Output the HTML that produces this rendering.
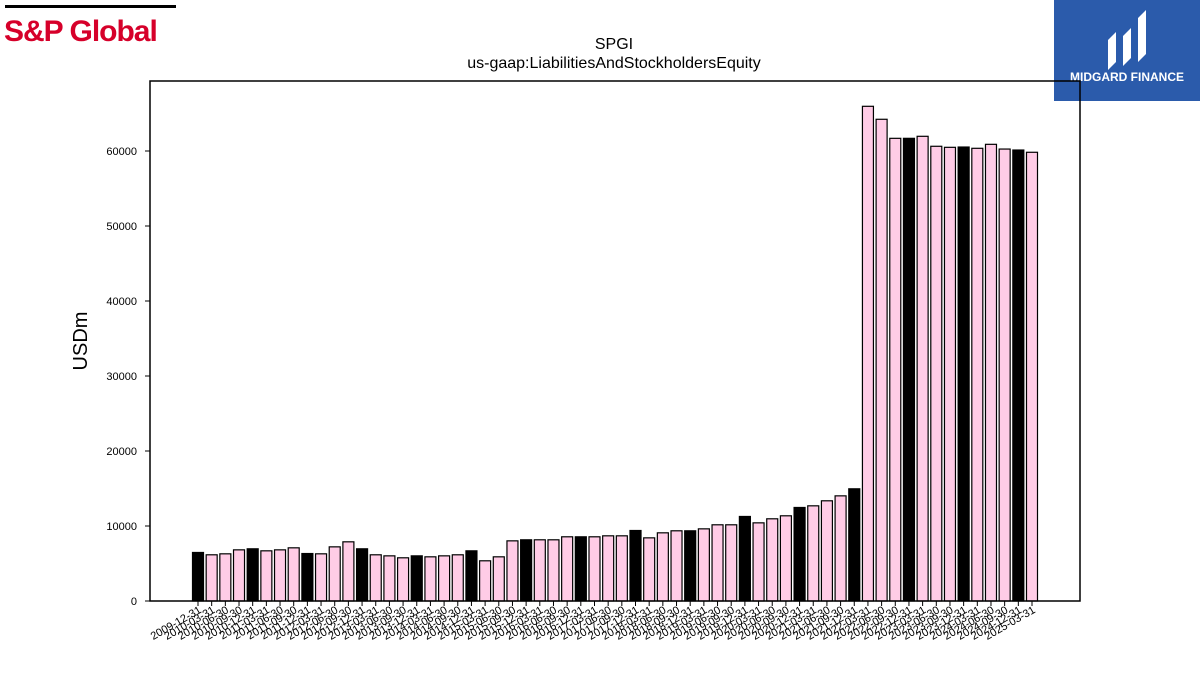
<!DOCTYPE html>
<html><head><meta charset="utf-8"><style>
body{margin:0;background:#fff;width:1200px;height:675px;overflow:hidden;font-family:"Liberation Sans","DejaVu Sans",sans-serif}
</style></head><body>
<svg width="1200" height="675" xmlns="http://www.w3.org/2000/svg">
<g>
<rect x="5" y="5" width="171" height="3" fill="#000"/>
<text x="4" y="41" font-size="30" font-weight="bold" fill="#d6002a" font-family="Liberation Sans, sans-serif" letter-spacing="-1">S&amp;P Global</text>
</g>
<g>
<rect x="1054" y="0" width="146" height="101" fill="#2b5bab"/>
<path d="M1108 70 L1108 40 L1116 32 L1116 62 Z M1123 66 L1123 36 L1131 28 L1131 58 Z M1138 62 L1138 18 L1146 10 L1146 54 Z" fill="#fff"/>
<text x="1127" y="81" font-size="12" font-weight="bold" fill="#fff" text-anchor="middle">MIDGARD FINANCE</text>
</g>
<text x="614" y="49" font-size="16" text-anchor="middle">SPGI</text>
<text x="614" y="68" font-size="16" text-anchor="middle">us-gaap:LiabilitiesAndStockholdersEquity</text>
<text transform="translate(87,341) rotate(-90)" font-size="20" text-anchor="middle">USDm</text>
<g id="plot"></g>
<rect x="150" y="81" width="930" height="520" fill="none" stroke="#000" stroke-width="1.5"/>
</svg>
<script>
const categories=["2009-12-31","2010-03-31","2010-06-30","2010-09-30","2010-12-31","2011-03-31","2011-06-30","2011-09-30","2011-12-31","2012-03-31","2012-06-30","2012-09-30","2012-12-31","2013-03-31","2013-06-30","2013-09-30","2013-12-31","2014-03-31","2014-06-30","2014-09-30","2014-12-31","2015-03-31","2015-06-30","2015-09-30","2015-12-31","2016-03-31","2016-06-30","2016-09-30","2016-12-31","2017-03-31","2017-06-30","2017-09-30","2017-12-31","2018-03-31","2018-06-30","2018-09-30","2018-12-31","2019-03-31","2019-06-30","2019-09-30","2019-12-31","2020-03-31","2020-06-30","2020-09-30","2020-12-31","2021-03-31","2021-06-30","2021-09-30","2021-12-31","2022-03-31","2022-06-30","2022-09-30","2022-12-31","2023-03-31","2023-06-30","2023-09-30","2023-12-31","2024-03-31","2024-06-30","2024-09-30","2024-12-31","2025-03-31"];
const values=[6470,6160,6290,6820,6960,6690,6820,7090,6330,6290,7220,7890,6960,6160,6020,5760,6020,5890,6020,6160,6690,5360,5890,8020,8160,8160,8160,8560,8560,8560,8690,8690,9400,8420,9090,9360,9360,9620,10160,10160,11270,10420,10960,11360,12470,12690,13360,14020,14960,65960,64230,61690,61690,61960,60630,60490,60530,60360,60890,60260,60130,59830];
const yTicks=[0,10000,20000,30000,40000,50000,60000];
const NS="http://www.w3.org/2000/svg";
const plot=document.getElementById("plot");
const y=v=>601-v*0.0075;
const x=i=>198+i*(1032-198)/(categories.length-1);
yTicks.forEach(t=>{
 const l=document.createElementNS(NS,"line");
 l.setAttribute("x1",145);l.setAttribute("x2",150);l.setAttribute("y1",y(t));l.setAttribute("y2",y(t));l.setAttribute("stroke","#000");
 
 
 plot.appendChild(l);
 const tx=document.createElementNS(NS,"text");
 tx.setAttribute("x",137);tx.setAttribute("y",y(t)+4);tx.setAttribute("font-size","11");tx.setAttribute("text-anchor","end");tx.textContent=t;
 
 
 plot.appendChild(tx);
});
categories.forEach((c,i)=>{
 const r=document.createElementNS(NS,"rect");
 const black=c.endsWith("12-31");
 r.setAttribute("x",x(i)-5.5);r.setAttribute("width",11);r.setAttribute("y",y(values[i]));r.setAttribute("height",601-y(values[i]));
 r.setAttribute("fill",black?"#000":"#ffcce6");r.setAttribute("stroke","#000");r.setAttribute("stroke-width","1.2");
 
 
 plot.appendChild(r);
 const l=document.createElementNS(NS,"line");
 l.setAttribute("x1",x(i));l.setAttribute("x2",x(i));l.setAttribute("y1",601);l.setAttribute("y2",606);l.setAttribute("stroke","#000");
 
 
 plot.appendChild(l);
 const tx=document.createElementNS(NS,"text");
 tx.setAttribute("transform","translate("+(x(i)+4)+",612) rotate(-30)");
 tx.setAttribute("font-size","11");tx.setAttribute("text-anchor","end");tx.textContent=c;
 
 
 plot.appendChild(tx);
});
</script>
</body></html>
